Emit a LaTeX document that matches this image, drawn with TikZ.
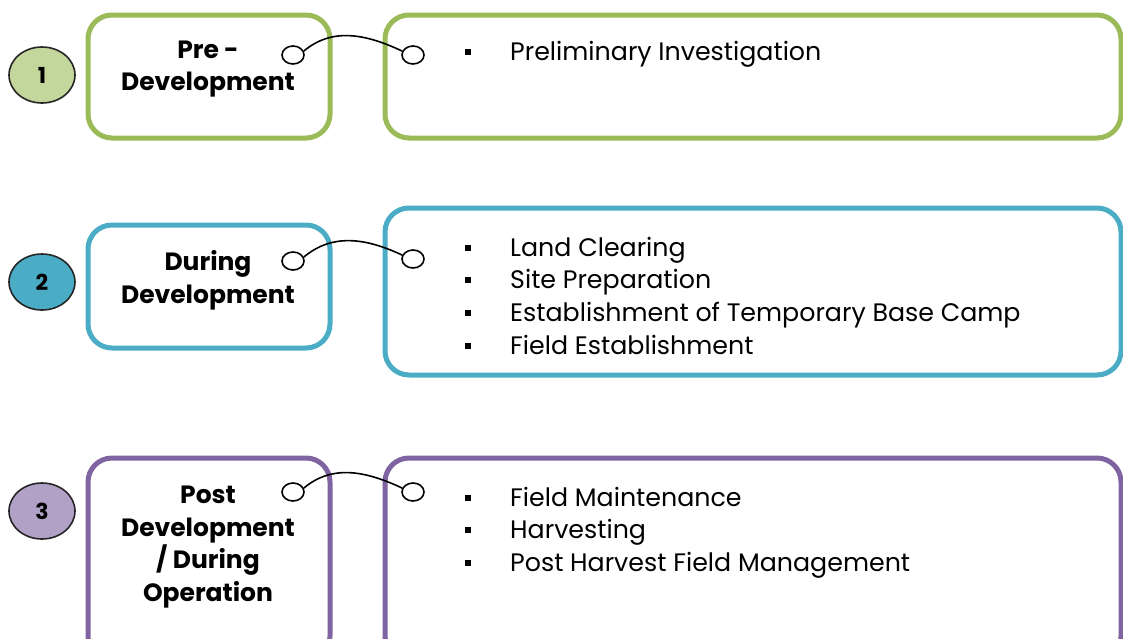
\documentclass[tikz,border=0pt]{standalone}
\usepackage{fontspec}
\setmainfont{Poppins}
\usetikzlibrary{shapes.geometric}
\definecolor{gA}{HTML}{9BBB59}
\definecolor{gAf}{HTML}{C3D69B}
\definecolor{bA}{HTML}{4BACC6}
\definecolor{pA}{HTML}{8064A2}
\definecolor{pAf}{HTML}{B2A1C7}
\tikzset{
  numball/.style={ellipse, draw=black!85, line width=1.6pt, minimum width=66pt, minimum height=56pt, font=\fontsize{22}{22}\selectfont\bfseries, inner sep=0pt},
  stagebox/.style={draw, rounded corners=24pt, line width=5pt},
  stagetext/.style={font=\fontsize{25}{32.7}\selectfont\bfseries, align=center, inner sep=0pt},
  listitem/.style={font=\fontsize{25.3}{30}\selectfont, inner sep=0pt, anchor=base west},
  ring/.style={ellipse, draw=black, line width=1.6pt, minimum width=22pt, minimum height=18pt, inner sep=0pt, fill=white},
  link/.style={black, line width=1.6pt}
}
\newcommand{\bul}{\makebox[45pt][l]{\raisebox{5pt}{\rule{6pt}{6pt}}}}
\begin{document}
\begin{tikzpicture}[x=1pt,y=-1pt]
\useasboundingbox (0,0) rectangle (1123,638);
% row 1
\node[numball, fill=gAf] (n1) at (42,75) {1};
\draw[stagebox, gA] (88,15) rectangle (330,138);
\draw[stagebox, gA] (385,15) rectangle (1121,138);
\node[stagetext] (s1) at (208,69) {Pre -\\Development};
\node[listitem] (l11) at (465,60) {\bul Preliminary Investigation};
\node[ring] (a1) at (293,55) {};
\node[ring] (b1) at (413,55) {};
\draw[link] (a1.20) to[out=40,in=155] (b1.160);
% row 2
\node[numball, fill=bA] (n2) at (42,282) {2};
\draw[stagebox, bA] (88,225) rectangle (330,348);
\draw[stagebox, bA] (385,208) rectangle (1121,375);
\node[stagetext] (s2) at (208,280) {During\\Development};
\node[listitem] (l21) at (465,256) {\bul Land Clearing};
\node[listitem] (l22) at (465,288) {\bul Site Preparation};
\node[listitem] (l23) at (465,321) {\bul Establishment of Temporary Base Camp};
\node[listitem] (l24) at (465,354) {\bul Field Establishment};
\node[ring] (a2) at (293,261) {};
\node[ring] (b2) at (413,259) {};
\draw[link] (a2.20) to[out=40,in=155] (b2.160);
% row 3
\node[numball, fill=pAf] (n3) at (42,511) {3};
\draw[stagebox, pA] (88,458) rectangle (330,660);
\draw[stagebox, pA] (385,458) rectangle (1121,660);
\node[stagetext] (s3) at (208,547) {Post\\Development\\/ During\\Operation};
\node[listitem] (l31) at (465,506) {\bul Field Maintenance};
\node[listitem] (l32) at (465,538) {\bul Harvesting};
\node[listitem] (l33) at (465,571) {\bul Post Harvest Field Management};
\node[ring] (a3) at (293,492) {};
\node[ring] (b3) at (413,492) {};
\draw[link] (a3.20) to[out=40,in=155] (b3.160);
\end{tikzpicture}
\end{document}
